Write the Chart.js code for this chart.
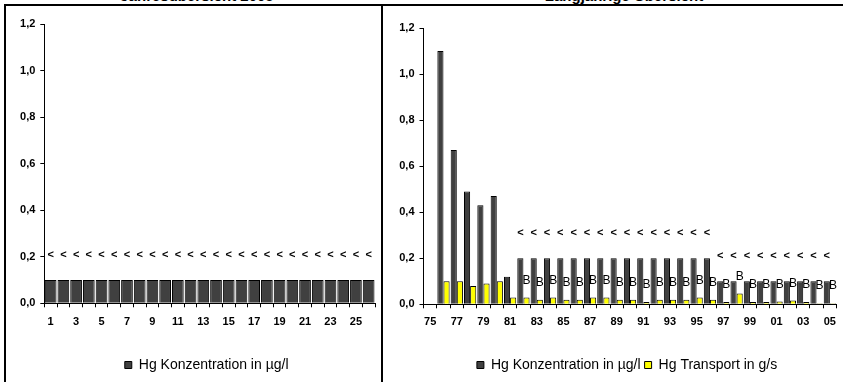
<!DOCTYPE html>
<html lang="de">
<head>
<meta charset="utf-8">
<title>Hg Konzentration und Transport</title>
<script src="https://cdn.jsdelivr.net/npm/chart.js@4.4.1/dist/chart.umd.min.js"></script>
<style>
    html, body { margin: 0; padding: 0; background: #fff; overflow: hidden; }
    body { position: relative; width: 843px; height: 382px; font-family: 'Liberation Sans', Arial, sans-serif; }
    .panel { position: absolute; top: 4px; height: 400px; border: 2px solid #000; box-sizing: border-box; }
    #leftPanel { left: 4px; width: 379px; }
    #rightPanel { left: 381px; width: 470px; }
    .title { position: absolute; top: -12px; font-size: 15px; line-height: 15px; font-weight: bold; text-align: center; }
    canvas { position: absolute; top: 0; }
</style>
</head>
<body>
<div class="panel" id="leftPanel"></div>
<div class="panel" id="rightPanel"></div>
<div class="title" style="left:0; width:394px;">Jahresübersicht 2005</div>
<div class="title" style="left:424px; width:400px;">Langjährige Übersicht</div>
<canvas id="dayChart" width="382" height="382" style="left:0;"></canvas>
<canvas id="yearChart" width="461" height="382" style="left:382px;"></canvas>
<script>
// Jahresübersicht 2005
const dayLabels = ['1', '2', '3', '4', '5', '6', '7', '8', '9', '10', '11', '12', '13',
    '14', '15', '16', '17', '18', '19', '20', '21', '22', '23', '24', '25', '26'];
const dayKonz = [0.1, 0.1, 0.1, 0.1, 0.1, 0.1, 0.1, 0.1, 0.1, 0.1, 0.1, 0.1, 0.1,
    0.1, 0.1, 0.1, 0.1, 0.1, 0.1, 0.1, 0.1, 0.1, 0.1, 0.1, 0.1, 0.1];
const dayKonzMarks = ['<', '<', '<', '<', '<', '<', '<', '<', '<', '<', '<', '<', '<',
    '<', '<', '<', '<', '<', '<', '<', '<', '<', '<', '<', '<', '<'];

// Langjährige Übersicht (1975 - 2005)
const yearLabels = ['75', '76', '77', '78', '79', '80', '81', '82', '83', '84', '85', '86',
    '87', '88', '89', '90', '91', '92', '93', '94', '95', '96', '97', '98', '99', '00',
    '01', '02', '03', '04', '05'];
const yearKonz = [null, 1.1, 0.67, 0.49, 0.43, 0.47, 0.12,
    0.2, 0.2, 0.2, 0.2, 0.2, 0.2, 0.2, 0.2, 0.2, 0.2, 0.2, 0.2, 0.2, 0.2, 0.2,
    0.1, 0.1, 0.1, 0.1, 0.1, 0.1, 0.1, 0.1, 0.1];
const yearTransport = [null, 0.1, 0.1, 0.08, 0.09, 0.1, 0.03,
    0.03, 0.02, 0.03, 0.02, 0.02, 0.03, 0.03, 0.02, 0.02, 0.01, 0.02, 0.02, 0.02, 0.03, 0.02,
    0.01, 0.047, 0.01, 0.01, 0.012, 0.016, 0.01, 0.005, 0.005];
const yearKonzMarks = ['', '', '', '', '', '', '',
    '<', '<', '<', '<', '<', '<', '<', '<', '<', '<', '<', '<', '<', '<', '<',
    '<', '<', '<', '<', '<', '<', '<', '<', '<'];
const yearTransportMarks = ['', '', '', '', '', '', '',
    'B', 'B', 'B', 'B', 'B', 'B', 'B', 'B', 'B', 'B', 'B', 'B', 'B', 'B', 'B',
    'B', 'B', 'B', 'B', 'B', 'B', 'B', 'B', 'B'];

const FONT = "'Liberation Sans', Arial, sans-serif";
const KONZ_COLOR = '#404040';
const TRANS_COLOR = '#ffff00';

// draws the small text marks ("<", "B") above the bars
const barMarksPlugin = {
    id: 'barMarks',
    afterDatasetsDraw(chart, args, opts) {
        const ctx = chart.ctx;
        (opts.sets || []).forEach(set => {
            const meta = chart.getDatasetMeta(set.dataset);
            ctx.save();
            ctx.font = set.font;
            ctx.fillStyle = '#000';
            ctx.textAlign = 'center';
            ctx.textBaseline = 'middle';
            meta.data.forEach((bar, i) => {
                const txt = set.labels[i];
                if (!txt) return;
                ctx.fillText(txt, bar.x, bar.y - set.offset);
            });
            ctx.restore();
        });
    }
};

// keep the legend centred under the plot area, like the original
const legendUnderPlot = {
    id: 'legendUnderPlot',
    afterLayout(chart, args, opts) {
        const legend = chart.legend;
        const area = chart.chartArea;
        if (!legend || !area) return;
        legend.left = area.left + (opts.shift || 0);
        legend.right = area.right + (opts.shift || 0);
        legend.width = legend.right - legend.left;
    }
};

function makeScales(xLabels, xHeight, xPad) {
    return {
        x: {
            grid: { drawOnChartArea: false, drawTicks: true, tickLength: 4, color: '#000', offset: true },
            border: { color: '#000', width: 1 },
            ticks: {
                autoSkip: false,
                maxRotation: 0,
                padding: xPad,
                color: '#000',
                font: { family: FONT, size: 11, weight: 'bold' },
                callback: (v, i) => (i % 2 === 0 ? xLabels[i] : '')
            },
            afterFit: s => { s.height = xHeight; }
        },
        y: {
            min: 0,
            max: 1.2,
            grid: { drawOnChartArea: false, drawTicks: true, tickLength: 4, color: '#000' },
            border: { color: '#000', width: 1 },
            ticks: {
                stepSize: 0.2,
                padding: 5,
                color: '#000',
                font: { family: FONT, size: 11, weight: 'bold' },
                callback: v => v.toFixed(1).replace('.', ',')
            },
            afterFit: s => { s.width = 30; }
        }
    };
}

const legendOpts = {
    position: 'bottom',
    labels: {
        boxWidth: 7,
        boxHeight: 7,
        padding: 4,
        color: '#000',
        font: { family: FONT, size: 14 }
    }
};

new Chart(document.getElementById('dayChart'), {
    type: 'bar',
    data: {
        labels: dayLabels,
        datasets: [{
            label: 'Hg Konzentration in µg/l',
            data: dayKonz,
            backgroundColor: KONZ_COLOR,
            borderColor: '#000',
            borderWidth: 1,
            categoryPercentage: 0.92,
            barPercentage: 1
        }]
    },
    options: {
        responsive: false,
        animation: false,
        devicePixelRatio: 1,
        layout: { padding: { left: 14.3, right: 7, top: 24, bottom: 0 } },
        scales: makeScales(dayLabels, 50.7, 8),
        plugins: {
            legend: legendOpts,
            tooltip: { enabled: false },
            legendUnderPlot: { shift: -3 },
            barMarks: {
                sets: [{ dataset: 0, labels: dayKonzMarks, offset: 25, font: 'bold 11px ' + FONT }]
            }
        }
    },
    plugins: [barMarksPlugin, legendUnderPlot]
});

new Chart(document.getElementById('yearChart'), {
    type: 'bar',
    data: {
        labels: yearLabels,
        datasets: [{
            label: 'Hg Konzentration in µg/l',
            data: yearKonz,
            backgroundColor: KONZ_COLOR,
            borderColor: '#000',
            borderWidth: 1,
            categoryPercentage: 0.92,
            barPercentage: 1
        }, {
            label: 'Hg Transport in g/s',
            data: yearTransport,
            backgroundColor: TRANS_COLOR,
            borderColor: '#000',
            borderWidth: 1,
            categoryPercentage: 0.92,
            barPercentage: 1
        }]
    },
    options: {
        responsive: false,
        animation: false,
        devicePixelRatio: 1,
        layout: { padding: { left: 11.5, right: 1, top: 28, bottom: 0 } },
        scales: makeScales(yearLabels, 49.7, 7),
        plugins: {
            legend: legendOpts,
            tooltip: { enabled: false },
            legendUnderPlot: { shift: -3 },
            barMarks: {
                sets: [
                    { dataset: 0, labels: yearKonzMarks, offset: 25, font: 'bold 11px ' + FONT },
                    { dataset: 1, labels: yearTransportMarks, offset: 17, font: '12px ' + FONT }
                ]
            }
        }
    },
    plugins: [barMarksPlugin, legendUnderPlot]
});
</script>
</body>
</html>
